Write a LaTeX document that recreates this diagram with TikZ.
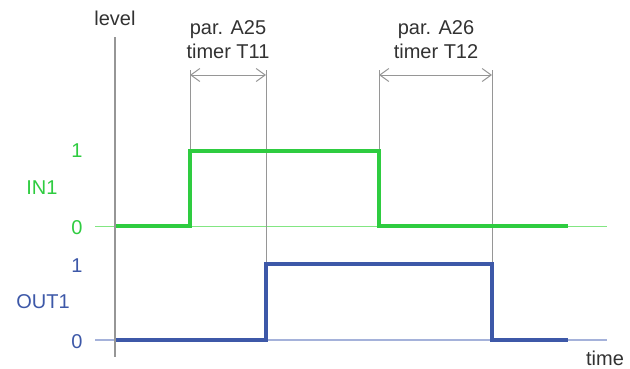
\documentclass[tikz,border=0pt]{standalone}
\usepackage{fontspec}
\setmainfont{Liberation Sans}
\usetikzlibrary{arrows.meta, calc}
\definecolor{ingreen}{RGB}{46,204,64}
\definecolor{inzero}{RGB}{130,230,130}
\definecolor{outblue}{RGB}{61,88,168}
\definecolor{outzero}{RGB}{165,178,218}
\definecolor{guide}{RGB}{150,150,150}
\definecolor{txtgray}{RGB}{50,50,50}
\tikzstyle{axis} = [guide, line width=1.5pt]
\tikzstyle{marker} = [guide, line width=1pt]
\tikzstyle{span} = [guide, line width=1pt, <->, >={Straight Barb[length=9pt, width=13pt]}]
\tikzstyle{insig} = [ingreen, line width=4pt, line join=miter]
\tikzstyle{outsig} = [outblue, line width=4pt, line join=miter]
\tikzstyle{lbl} = [font=\fontsize{20}{24}\selectfont]

\begin{document}
\begin{tikzpicture}[x=1pt, y=-1pt]

        \useasboundingbox (0,0) rectangle (630,368);

        % Axis
        \node at (115,18) [lbl, txtgray] (level) {level};
        \node at (605,358) [lbl, txtgray] (time) {time};
        \coordinate (axtop) at (115,37);
        \coordinate (axbot) at (115,357);

        % Zero lines
        \coordinate (inzl) at (95,226);
        \coordinate (inzr) at (607,226);
        \coordinate (outzl) at (95,340);
        \coordinate (outzr) at (607,340);
        \draw [inzero, line width=1pt] (inzl) -- (inzr);
        \draw [outzero, line width=1.5pt] (outzl) -- (outzr);

        % Timing markers
        \coordinate (m1) at (190,70);
        \coordinate (m2) at (266,70);
        \coordinate (m3) at (379,70);
        \coordinate (m4) at (492,70);
        \draw [marker] (m1) -- (190,151);
        \draw [marker] (m2) -- (266,264);
        \draw [marker] (m3) -- (379,151);
        \draw [marker] (m4) -- (492,264);
        \draw [span] ($(m1)+(0,5)$) -- ($(m2)+(0,5)$);
        \draw [span] ($(m3)+(0,5)$) -- ($(m4)+(0,5)$);
        \node at (228,40) [lbl, txtgray, align=center] (par25) {par. A25\\timer T11};
        \node at (436,40) [lbl, txtgray, align=center] (par26) {par. A26\\timer T12};

        % IN1 signal
        \node at (77,151) [lbl, ingreen] (inone) {1};
        \node at (42,188) [lbl, ingreen] (inname) {IN1};
        \node at (77,228) [lbl, ingreen] (inzero) {0};
        \coordinate (ina) at (115,226);
        \coordinate (inb) at (379,151);
        \coordinate (inc) at (568,226);
        \draw [insig] (ina) -- (190,226) |- (inb) |- (inc);

        % OUT1 signal
        \node at (77,266) [lbl, outblue] (outone) {1};
        \node at (43,302) [lbl, outblue] (outname) {OUT1};
        \node at (77,342) [lbl, outblue] (outzero) {0};
        \coordinate (outa) at (115,340);
        \coordinate (outb) at (492,264);
        \coordinate (outc) at (568,340);
        \draw [outsig] (outa) -- (266,340) |- (outb) |- (outc);

        % Axis on top
        \draw [axis] (axtop) -- (axbot);

\end{tikzpicture}
\end{document}
